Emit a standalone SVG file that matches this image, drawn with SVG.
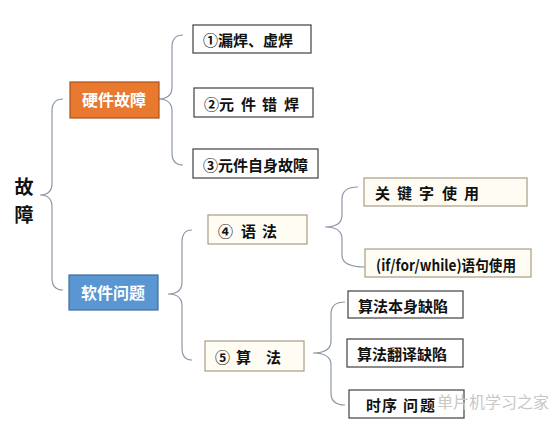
<svg xmlns="http://www.w3.org/2000/svg" width="550" height="427" viewBox="0 0 550 427">
<style>
.bg{fill:#ffffff}
.brace{fill:none;stroke:#8c98a6;stroke-width:1.2}
.wbox{fill:#ffffff;stroke:#404040;stroke-width:1.2}
.cbox{fill:#fffdf3;stroke:#a89c86;stroke-width:1.2}
.t{font-family:"Noto Sans CJK SC","Liberation Sans",sans-serif;font-weight:bold;font-size:15px;fill:#111111;dominant-baseline:central}
.h{font-family:"Noto Sans CJK SC","Liberation Sans",sans-serif;font-weight:bold;font-size:16px;fill:#ffffff;dominant-baseline:central;text-anchor:middle}
.root{font-family:"Noto Sans CJK SC","Liberation Sans",sans-serif;font-weight:bold;font-size:19px;fill:#111111;dominant-baseline:central;text-anchor:middle}
.wm{font-family:"Noto Sans CJK SC",sans-serif;font-size:16px;fill:#c8c8c8;dominant-baseline:central}
</style>
<rect class="bg" x="0" y="0" width="550" height="427"/>
<g id="connectors">
<path class="brace" d="M63,99 Q52,99 52,111 L52,183 Q52,195 40,195 Q52,195 52,207 L52,278 Q52,290 63,290"/>
<path class="brace" d="M183,35 Q172,35 172,47 L172,87 Q172,99 158,99 Q172,99 172,111 L172,153 Q172,165 183,165"/>
<path class="brace" d="M192,230 Q182,230 182,242 L182,282 Q182,294 168,294 Q182,294 182,306 L182,348 Q182,360 192,360"/>
<path class="brace" d="M358,187 Q342,187 342,199 L342,215 Q342,227 325,227 Q342,227 342,239 L342,255 Q342,267 365,267"/>
<path class="brace" d="M345,302 Q331,302 331,314 L331,341 Q331,353 313,353 Q331,353 331,365 L331,393 Q331,405 345,405"/>
</g>
<g id="root"><text class="root" x="24" y="185">故</text><text class="root" x="24" y="213">障</text></g>
<g id="hw"><rect x="70" y="82" width="89" height="36" fill="#e8792f" stroke="#a9531c" stroke-width="1.2"/><text class="h" x="114" y="99">硬件故障</text></g>
<g id="sw"><rect x="69" y="275" width="89" height="35" fill="#5a97d2" stroke="#3d6d9c" stroke-width="1.2"/><text class="h" x="113" y="292">软件问题</text></g>
<g id="n1"><rect class="wbox" x="193" y="25" width="118" height="28"/><text class="t" x="203" y="39">①漏焊、虚焊</text></g>
<g id="n2"><rect class="wbox" x="194" y="88" width="119" height="29"/><text class="t" y="103"><tspan x="204">②</tspan><tspan x="219">元</tspan><tspan x="241">件</tspan><tspan x="262">错</tspan><tspan x="284">焊</tspan></text></g>
<g id="n3"><rect class="wbox" x="193" y="149" width="125" height="29"/><text class="t" x="203" y="164">③元件自身故障</text></g>
<g id="n4"><rect class="cbox" x="208" y="215" width="99" height="29"/><text class="t" y="230"><tspan x="218">④</tspan><tspan x="241">语</tspan><tspan x="262">法</tspan></text></g>
<g id="n5"><rect class="cbox" x="205" y="341" width="99" height="30"/><text class="t" y="356"><tspan x="215">⑤</tspan><tspan x="236">算</tspan><tspan x="266">法</tspan></text></g>
<g id="n6"><rect class="cbox" x="364" y="178" width="163" height="28"/><text class="t" y="192"><tspan x="375">关</tspan><tspan x="397">键</tspan><tspan x="419">字</tspan><tspan x="442">使</tspan><tspan x="464">用</tspan></text></g>
<g id="n7"><rect class="cbox" x="365" y="249" width="166" height="28"/><text class="t" x="376" y="264" textLength="140" lengthAdjust="spacingAndGlyphs">(if/for/while)语句使用</text></g>
<g id="n8"><rect class="wbox" x="348" y="291" width="115" height="27"/><text class="t" x="358" y="305">算法本身缺陷</text></g>
<g id="n9"><rect class="wbox" x="347" y="339" width="116" height="28"/><text class="t" x="357" y="353">算法翻译缺陷</text></g>
<g id="n10"><rect class="wbox" x="349" y="390" width="115" height="28"/><text class="t" y="404"><tspan x="366">时</tspan><tspan x="382">序</tspan><tspan x="403">问</tspan><tspan x="420">题</tspan></text></g>
<text class="wm" x="437" y="401">单片机学习之家</text>
</svg>
